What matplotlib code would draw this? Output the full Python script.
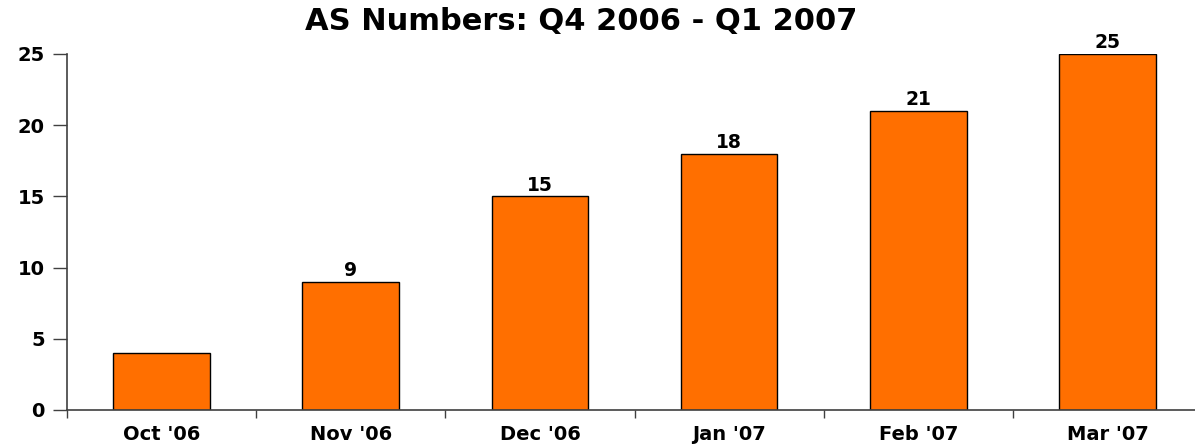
import numpy as np
import matplotlib.pyplot as plt

plt.rcParams['font.family'] = ['DejaVu Sans']

months = ["Oct '06", "Nov '06", "Dec '06", "Jan '07", "Feb '07", "Mar '07"]
as_numbers = [4, 9, 15, 18, 21, 25]
shown_labels = ["", "9", "15", "18", "21", "25"]

fig = plt.figure(figsize=(11.95, 4.46), dpi=100)
ax = fig.add_axes([0.056, 0.081, 0.95, 0.798])

x = np.arange(len(months))
bars = ax.bar(x, as_numbers, width=0.51, color='#FF6F00', edgecolor='black', linewidth=1, zorder=2)
for b, lab in zip(bars, shown_labels):
    ax.text(b.get_x() + b.get_width() / 2, b.get_height() + 0.12, lab,
            ha='center', va='bottom', fontsize=13.5, fontweight='bold')

ax.set_xlim(-0.5, len(months) - 0.5)
ax.set_ylim(0, 25)
ax.set_yticks(range(0, 26, 5))
ax.set_xticks(x)
ax.set_xticklabels(months, fontsize=14, fontweight='bold')
ax.set_xticks(np.arange(-0.5, len(months), 1), minor=True)
ax.tick_params(axis='x', which='major', length=0, pad=11)
ax.tick_params(axis='x', which='minor', length=6, width=1, color='#404040', direction='out')
ax.tick_params(axis='y', length=10, width=1, color='#404040', direction='out', pad=6)
for t in ax.get_yticklabels():
    t.set_fontsize(14)
    t.set_fontweight('bold')

for s in ['top', 'right']:
    ax.spines[s].set_visible(False)
for s in ['left', 'bottom']:
    ax.spines[s].set_color('#404040')
    ax.spines[s].set_linewidth(1.2)

fig.text(0.486, 0.951, 'AS Numbers: Q4 2006 - Q1 2007', ha='center', va='center',
         fontsize=22, fontweight='bold')

fig.savefig('out.png', dpi=100)
